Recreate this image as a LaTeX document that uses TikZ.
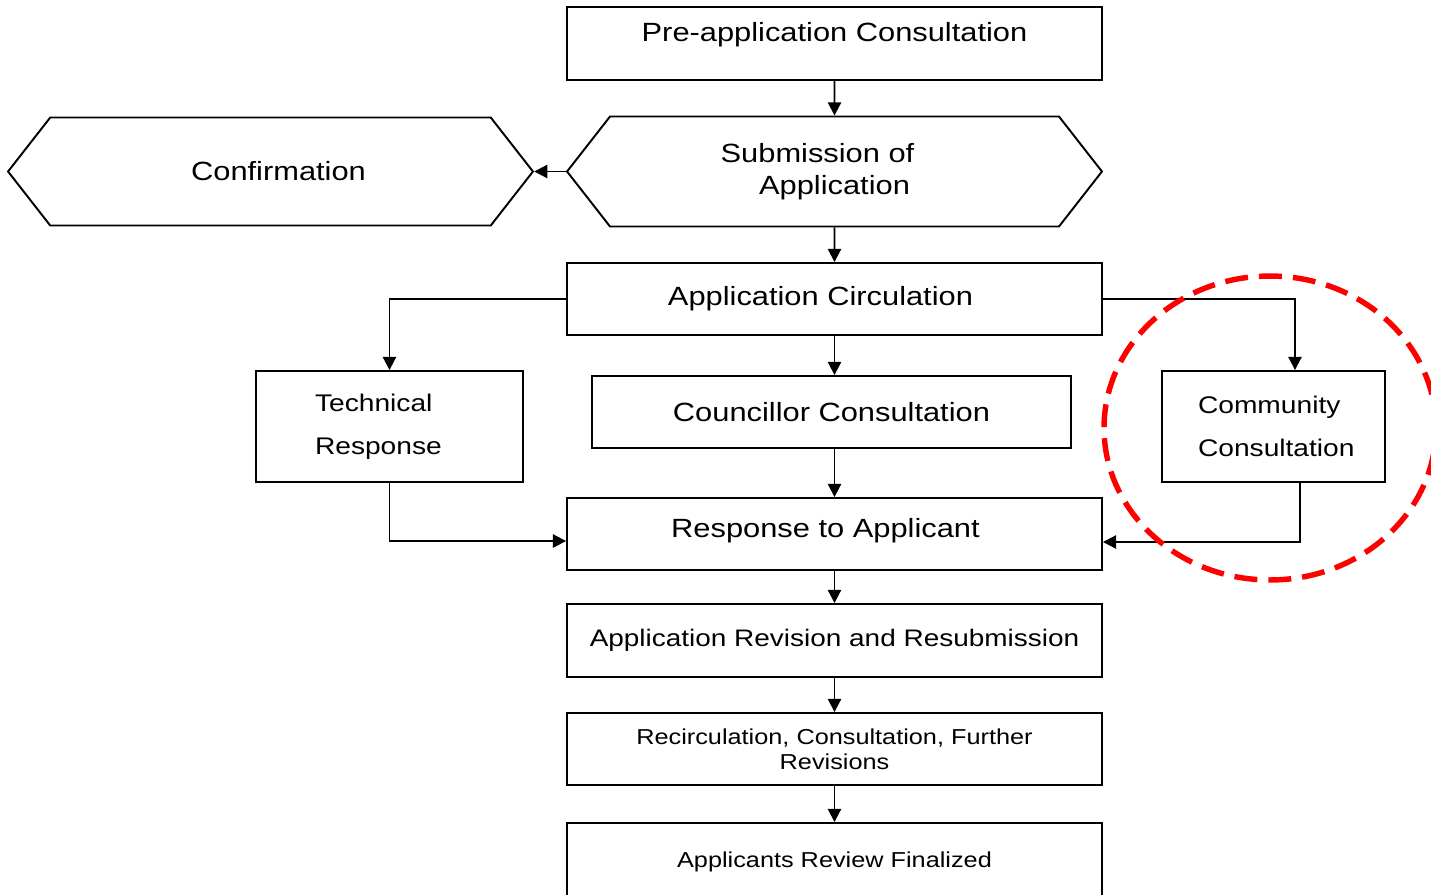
\documentclass[tikz,border=0pt]{standalone}
\usepackage{fontspec}
\setmainfont[FakeStretch=1.17]{Liberation Sans}
\usetikzlibrary{arrows.meta}
\usetikzlibrary{shapes.symbols}

\tikzset{
  stage/.style={draw, rectangle, line width=1.1pt, inner sep=0pt, align=center,
    font=\fontsize{15}{18}\selectfont},
  hexa/.style={draw, signal, signal to=west and east, signal pointer angle=104,
    line width=1.1pt, inner sep=0pt, align=center, font=\fontsize{15}{18}\selectfont},
  flow/.style={line width=1.1pt, -{Triangle[length=7.5pt,width=7.5pt]}},
  highlight/.style={red, line width=3.1pt, dash pattern=on 0.46cm off 0.22cm}
}

\begin{document}
\begin{tikzpicture}[x=0.02cm, y=-0.02cm]
            \clip (0,0) rectangle (1431,894);

            \node[stage, minimum width=10.7cm, minimum height=1.46cm, text height=11pt, text depth=13.5pt] (pre) at (834.5,43.5) {Pre-application Consultation};

            \node[hexa, minimum width=10.7cm, minimum height=2.2cm] (sub) at (834.5,171.5) {Submission of\hspace*{0.68cm}\\Application};
            \node[hexa, minimum width=10.5cm, minimum height=2.16cm] (conf) at (270.5,171.5) {\hspace*{0.32cm}Confirmation};

            \node[stage, minimum width=10.7cm, minimum height=1.44cm] (circ) at (834.5,299) {Application Circulation\hspace*{0.56cm}};

            \node[stage, minimum width=5.34cm, minimum height=2.22cm, text width=2.98cm, align=left,
              font=\fontsize{13.7}{24.4}\selectfont] (tech) at (389.5,426.5) {Technical\\Response};
            \node[stage, minimum width=9.58cm, minimum height=1.44cm] (coun) at (831.5,412) {Councillor Consultation};
            \node[stage, minimum width=4.46cm, minimum height=2.22cm, text width=3.02cm, align=left,
              font=\fontsize{13.7}{24.4}\selectfont] (comm) at (1273.5,426.5) {Community\\Consultation};

            \node[stage, minimum width=10.7cm, minimum height=1.44cm, text height=11pt, text depth=6.5pt] (resp) at (834.5,534) {Response to Applicant\hspace*{0.36cm}};
            \node[stage, minimum width=10.7cm, minimum height=1.46cm, font=\fontsize{13.6}{17}\selectfont] (rev) at (834.5,640.5) {Application Revision and Resubmission};
            \node[stage, minimum width=10.7cm, minimum height=1.44cm, font=\fontsize{12.3}{14.5}\selectfont] (recirc) at (834.5,749) {Recirculation, Consultation, Further\\Revisions};
            \node[stage, minimum width=10.7cm, minimum height=1.54cm, font=\fontsize{12.3}{14.5}\selectfont] (final) at (834.5,861.5) {Applicants Review Finalized};

            % connectors
            \draw[flow] (pre) -- (sub);
            \draw[flow] (sub.west) -- (conf.east);
            \draw[flow] (sub) -- (circ);
            \draw[flow] (circ.west) -| (tech.north);
            \draw[flow] (circ.east) -| ([xshift=0.43cm]comm.north);
            \draw[flow] (circ.south) -- (circ.south |- coun.north);
            \draw[flow] (resp.north |- coun.south) -- (resp.north);
            \draw[flow] (tech.south) |- ([yshift=-0.14cm]resp.west);
            \draw[flow] ([xshift=0.53cm]comm.south) |- ([yshift=-0.16cm]resp.east);
            \draw[flow] (resp) -- (rev);
            \draw[flow] (rev) -- (recirc);
            \draw[flow] (recirc) -- (final);

            \draw[highlight] (1270,428) ellipse [x radius=3.32cm, y radius=3.04cm];
        \end{tikzpicture}
\end{document}
